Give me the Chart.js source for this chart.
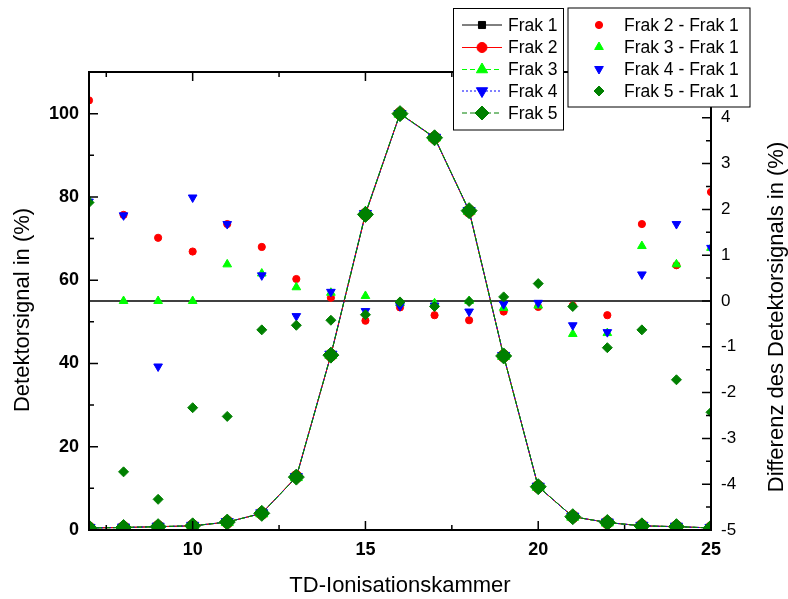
<!DOCTYPE html>
<html>
<head>
<meta charset="utf-8">
<script src="https://cdn.jsdelivr.net/npm/chart.js@4/dist/chart.umd.min.js"></script>
<style>
html,body{margin:0;padding:0;background:#fff;overflow:hidden}
canvas{display:block}
</style>
</head>
<body>
<canvas id="c" width="788" height="599"></canvas>
<script>
// ---------- data ----------
const kammer = [7,8,9,10,11,12,13,14,15,16,17,18,19,20,21,22,23,24,25];

const frak1 = [0.5,0.6,0.8,1.0,1.9,4.0,12.7,42.0,76.0,100.0,94.3,76.7,41.8,10.4,3.2,1.8,1.0,0.8,0.5];
const frak2 = [0.5,0.6,0.8,1.0,1.9,4.0,12.8,42.0,75.8,100.0,94.2,76.6,41.8,10.4,3.2,1.8,1.0,0.8,0.5];
const frak3 = [0.5,0.6,0.8,1.0,1.9,4.0,12.7,42.1,76.1,100.0,94.3,76.7,41.8,10.4,3.2,1.8,1.0,0.8,0.5];
const frak4 = [0.5,0.6,0.8,1.0,1.9,4.0,12.7,42.1,75.9,99.9,94.2,76.6,41.8,10.4,3.2,1.8,1.0,0.8,0.5];
const frak5 = [0.5,0.6,0.8,1.0,1.9,4.0,12.7,42.0,75.8,100.0,94.2,76.7,41.8,10.4,3.2,1.8,1.0,0.8,0.5];

const diff2 = [4.38,1.88,1.38,1.08,1.68,1.18,0.48,0.07,-0.43,-0.14,-0.31,-0.42,-0.23,-0.13,-0.10,-0.31,1.68,0.78,2.38];
const diff3 = [2.20,0.00,0.00,0.00,0.80,0.60,0.30,0.18,0.11,-0.05,-0.05,0.00,-0.15,-0.10,-0.72,-0.70,1.20,0.80,1.16];
const diff4 = [2.17,1.87,-1.43,2.26,1.68,0.56,-0.33,0.20,-0.22,-0.11,-0.10,-0.23,-0.07,-0.04,-0.53,-0.68,0.58,1.68,1.16];
const diff5 = [2.15,-3.73,-4.33,-2.33,-2.52,-0.63,-0.53,-0.42,-0.30,-0.02,-0.12,-0.01,0.09,0.38,-0.12,-1.02,-0.63,-1.72,-2.43];

const zeroLineX = [7, 25];
const zeroLineY = [0, 0];

const xTicks = [10, 15, 20, 25];
const xMinorTicks = [7.5, 12.5, 17.5, 22.5];
const leftTicks = [0, 20, 40, 60, 80, 100];
const leftMinorTicks = [10, 30, 50, 70, 90, 110];
const rightTicks = [-5, -4, -3, -2, -1, 0, 1, 2, 3, 4, 5];
const rightMinorTicks = [-4.5, -3.5, -2.5, -1.5, -0.5, 0.5, 1.5, 2.5, 3.5, 4.5];

const lineLabels = ['Frak 1', 'Frak 2', 'Frak 3', 'Frak 4', 'Frak 5'];
const diffLabels = ['Frak 2 - Frak 1', 'Frak 3 - Frak 1', 'Frak 4 - Frak 1', 'Frak 5 - Frak 1'];
const xTitle = 'TD-Ionisationskammer';
const yTitle = 'Detektorsignal in (%)';
const y2Title = 'Differenz des Detektorsignals in (%)';

// ---------- styles ----------
const FONT = '"Liberation Sans", Arial, Helvetica, sans-serif';
const RED = '#ff0000', LIME = '#00ff00', BLUE = '#0000ff', DKGREEN = '#008000';

const pts = (xs, ys) => xs.map((x, i) => ({x: x, y: ys[i]}));

const lineStyles = [
  {color: '#000000', dash: [], style: 'rect', rot: 0, r: 5, lr: 5},
  {color: RED, dash: [], style: 'circle', rot: 0, r: 6, lr: 5},
  {color: LIME, dash: [5, 3], style: 'triangle', rot: 0, r: 7, lr: 6.5},
  {color: BLUE, dash: [2, 2], style: 'triangle', rot: 180, r: 7, lr: 6.5},
  {color: DKGREEN, dash: [5, 3], style: 'rectRot', rot: 0, r: 8, lr: 7}
];
const diffStyles = [
  {color: RED, style: 'circle', rot: 0, r: 3.6, lr: 3.6},
  {color: LIME, style: 'triangle', rot: 0, r: 5, lr: 5},
  {color: BLUE, style: 'triangle', rot: 180, r: 5, lr: 5},
  {color: DKGREEN, style: 'rectRot', rot: 0, r: 5, lr: 5}
];

const lineData = [frak1, frak2, frak3, frak4, frak5];
const diffData = [diff2, diff3, diff4, diff5];

const datasets = [];
datasets.push({
  type: 'line', label: 'zero', data: pts(zeroLineX, zeroLineY), yAxisID: 'y2',
  borderColor: '#000', borderWidth: 1.5, pointRadius: 0, order: 30, clip: 0
});
lineData.forEach((arr, i) => {
  const s = lineStyles[i];
  datasets.push({
    type: 'line', label: lineLabels[i], data: pts(kammer, arr), yAxisID: 'y',
    borderColor: s.color, backgroundColor: s.color, borderWidth: 1, borderDash: s.dash,
    pointStyle: s.style, pointRotation: s.rot, pointRadius: s.r, pointBorderWidth: 1,
    pointBackgroundColor: s.color, pointBorderColor: s.color,
    tension: 0, clip: 0, order: 10 - i
  });
});
diffData.forEach((arr, i) => {
  const s = diffStyles[i];
  datasets.push({
    type: 'line', label: diffLabels[i], data: pts(kammer, arr), yAxisID: 'y2',
    showLine: false, borderColor: s.color, backgroundColor: s.color,
    pointStyle: s.style, pointRotation: s.rot, pointRadius: s.r, pointBorderWidth: 1,
    pointBackgroundColor: s.color, pointBorderColor: s.color,
    clip: 0, order: 20 - i
  });
});

// ---------- marker drawing for legends ----------
function marker(ctx, style, x, y, r, rot, color) {
  ctx.save();
  ctx.fillStyle = color; ctx.strokeStyle = color; ctx.lineWidth = 1; ctx.setLineDash([]);
  ctx.beginPath();
  const rad = rot * Math.PI / 180;
  if (style === 'circle') {
    ctx.arc(x, y, r, 0, Math.PI * 2);
  } else if (style === 'rect') {
    const h = r * Math.SQRT1_2;
    ctx.rect(x - h, y - h, 2 * h, 2 * h);
  } else if (style === 'triangle') {
    let a = rad;
    ctx.moveTo(x + Math.sin(a) * r, y - Math.cos(a) * r);
    a += 2 * Math.PI / 3;
    ctx.lineTo(x + Math.sin(a) * r, y - Math.cos(a) * r);
    a += 2 * Math.PI / 3;
    ctx.lineTo(x + Math.sin(a) * r, y - Math.cos(a) * r);
    ctx.closePath();
  } else if (style === 'rectRot') {
    ctx.moveTo(x - r, y); ctx.lineTo(x, y - r); ctx.lineTo(x + r, y); ctx.lineTo(x, y + r);
    ctx.closePath();
  }
  ctx.fill(); ctx.stroke();
  ctx.restore();
}

const decorPlugin = {
  id: 'decor',
  afterDatasetsDraw(chart) {
    const ctx = chart.ctx;
    const a = chart.chartArea;
    const sx = chart.scales.x, sy = chart.scales.y, sy2 = chart.scales.y2;
    ctx.save();
    ctx.strokeStyle = '#000';
    ctx.setLineDash([]);
    ctx.lineWidth = 1.5;
    const MAJ = 9, MIN = 5;
    ctx.beginPath();
    xTicks.concat(xMinorTicks).forEach(v => {
      const len = xTicks.includes(v) ? MAJ : MIN;
      const px = sx.getPixelForValue(v);
      ctx.moveTo(px, a.bottom); ctx.lineTo(px, a.bottom - len);
      ctx.moveTo(px, a.top); ctx.lineTo(px, a.top + len);
    });
    leftTicks.concat(leftMinorTicks).forEach(v => {
      const len = leftTicks.includes(v) ? MAJ : MIN;
      const py = sy.getPixelForValue(v);
      ctx.moveTo(a.left, py); ctx.lineTo(a.left + len, py);
    });
    rightTicks.concat(rightMinorTicks).forEach(v => {
      const len = rightTicks.includes(v) ? MAJ : MIN;
      const py = sy2.getPixelForValue(v);
      ctx.moveTo(a.right, py); ctx.lineTo(a.right - len, py);
    });
    ctx.stroke();
    ctx.lineWidth = 2;
    ctx.strokeRect(a.left, a.top, a.right - a.left, a.bottom - a.top);
    ctx.restore();
  },
  afterDraw(chart) {
    const ctx = chart.ctx;
    ctx.save();
    ctx.fillStyle = '#000';
    ctx.font = '22px ' + FONT;
    ctx.textAlign = 'center';
    ctx.textBaseline = 'alphabetic';
    ctx.save(); ctx.translate(29, 310); ctx.rotate(-Math.PI / 2); ctx.fillText(yTitle, 0, 0); ctx.restore();
    ctx.save(); ctx.translate(782.5, 317); ctx.rotate(-Math.PI / 2); ctx.fillText(y2Title, 0, 0); ctx.restore();

    // legend 1
    ctx.fillStyle = '#fff';
    ctx.fillRect(453.5, 8.5, 110, 121.5);
    ctx.strokeStyle = '#000'; ctx.lineWidth = 1;
    ctx.strokeRect(453.5, 8.5, 110, 121.5);
    const l1y = [25, 47.5, 69.5, 91, 113];
    ctx.font = '17.5px ' + FONT;
    ctx.textAlign = 'left'; ctx.textBaseline = 'middle';
    lineLabels.forEach((lab, i) => {
      const s = lineStyles[i];
      ctx.save();
      ctx.strokeStyle = s.color; ctx.lineWidth = 1; ctx.setLineDash(s.dash);
      ctx.beginPath(); ctx.moveTo(462, l1y[i]); ctx.lineTo(502, l1y[i]); ctx.stroke();
      ctx.restore();
      marker(ctx, s.style, 482, l1y[i], s.lr, s.rot, s.color);
      ctx.fillStyle = '#000';
      ctx.fillText(lab, 508, l1y[i] + 1);
    });

    // legend 2
    ctx.fillStyle = '#fff';
    ctx.fillRect(568, 8, 182, 99);
    ctx.strokeStyle = '#000'; ctx.lineWidth = 1;
    ctx.strokeRect(568, 8, 182, 99);
    const l2y = [25, 47, 69, 91];
    diffLabels.forEach((lab, i) => {
      const s = diffStyles[i];
      marker(ctx, s.style, 599, l2y[i], s.lr, s.rot, s.color);
      ctx.fillStyle = '#000';
      ctx.fillText(lab, 624, l2y[i] + 1);
    });
    ctx.restore();
  }
};

new Chart(document.getElementById('c'), {
  data: {datasets: datasets},
  options: {
    responsive: false,
    animation: false,
    events: [],
    layout: {padding: {top: 72, left: 0, right: 0, bottom: 0}},
    plugins: {legend: {display: false}, tooltip: {enabled: false}, title: {display: false}},
    scales: {
      x: {
        type: 'linear', position: 'bottom', min: 7, max: 25,
        afterBuildTicks: s => { s.ticks = xTicks.map(v => ({value: v})); },
        afterFit: s => { s.height = 69; },
        grid: {display: false, drawTicks: false},
        border: {display: false},
        ticks: {color: '#000', font: {family: FONT, size: 18, weight: 'bold'}, padding: 9, maxRotation: 0, autoSkip: false},
        title: {display: true, text: xTitle, color: '#000', font: {family: FONT, size: 22}, padding: {top: 0, bottom: 0}}
      },
      y: {
        type: 'linear', position: 'left', min: 0, max: 110,
        afterBuildTicks: s => { s.ticks = leftTicks.map(v => ({value: v})); },
        afterFit: s => { s.width = 89; },
        grid: {display: false, drawTicks: false},
        border: {display: false},
        ticks: {color: '#000', font: {family: FONT, size: 18, weight: 'bold'}, padding: 10}
      },
      y2: {
        type: 'linear', position: 'right', min: -5, max: 5,
        afterBuildTicks: s => { s.ticks = rightTicks.map(v => ({value: v})); },
        afterFit: s => { s.width = 77; },
        grid: {display: false, drawTicks: false},
        border: {display: false},
        ticks: {color: '#000', font: {family: FONT, size: 17}, padding: 10}
      }
    }
  },
  plugins: [decorPlugin]
});
</script>
</body>
</html>
